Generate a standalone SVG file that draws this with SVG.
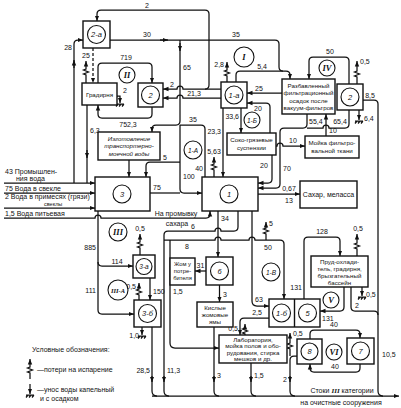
<svg xmlns="http://www.w3.org/2000/svg" width="401" height="408" viewBox="0 0 401 408">
<defs>
<marker id="ar" viewBox="0 0 10 10" refX="10" refY="5" markerWidth="5.5" markerHeight="5.5" orient="auto" markerUnits="userSpaceOnUse"><path d="M0,1 L10,5 L0,9 z" fill="#111"/></marker>
</defs>
<style>
.b{fill:#fff;stroke:#111;stroke-width:1.4}
.c{fill:#fff;stroke:#111;stroke-width:1.1}
.l path{fill:none;stroke:#111;stroke-width:1.25}
.l .a{marker-end:url(#ar)}
.l .d{stroke-dasharray:3 2}
text{font-family:"Liberation Sans",Arial,sans-serif;fill:#111}
.n{font-size:7px}
.m{text-anchor:middle}
.e{text-anchor:end}
.t{font-size:6.2px;text-anchor:middle}
.ti{font-size:6.2px;text-anchor:middle;font-style:italic}
.cn{font-size:7.5px;text-anchor:middle;font-style:italic}
.r{font-family:"Liberation Serif",serif;font-size:8.5px;text-anchor:middle;font-style:italic;font-weight:bold}
</style>
<rect width="401" height="408" fill="#fff"/>
<g id="connectors" class="l">
<path class="a" d="M209,40 V14 Q209,10 205,10 H101 Q97,10 97,14 V21"/>
<path class="a" d="M110,40 H275 Q279,40 279,44 V67 Q279,71 283,71 H286 Q290,71 290,75 V79"/>
<path class="a" d="M160,40 H168"/>
<path d="M209,40 V85 Q209,89 205,89"/>
<path class="a" d="M221,89 H183 A3,3 0 0 0 177,89 H163"/>
<path class="a" d="M221,98 H183 A3,3 0 0 0 177,98 H163"/>
<path class="a" d="M180,40 V121 Q180,125 176,125 H156 Q152,125 152,129 V132"/>
<path class="a" d="M180,43 V51"/>
<path d="M205,177 V129 Q205,125 201,125 H180"/>
<path class="a" d="M180,125 V189 Q180,193 184,193 H202"/>
<path d="M150,193 H180"/>
<path class="a" d="M180,162 H150 Q146,162 146,166 V177"/>
<path class="a" d="M129,160 V177"/>
<path class="a" d="M74,183 V44 Q74,40 78,40 H83"/>
<path class="a" d="M74,68 V60"/>
<path d="M87,105 V183"/>
<path class="a" d="M87,150 V158"/>
<path class="a" d="M4,183 H95"/>
<path class="a" d="M4,193 H95"/>
<path class="a" d="M4,208 H95"/>
<path class="a" d="M4,218 H95 A3,3 0 0 1 101,218 H206 Q210,218 210,214 V211"/>
<path class="a" d="M98,211 V310 Q98,314 102,314 H134"/>
<path class="a" d="M98,262 Q98,266 102,266 H133"/>
<path class="a" d="M140,255 V248 l-2.5,-1 l5,-2 l-5,-2 l2.5,-1 V234"/>
<path class="a" d="M150,278 V300"/>
<path class="a" d="M139,300 V295 l-2.5,-1 l5,-2 l-5,-2 l2.5,-1 V283"/>
<path class="a" d="M142,327 V335"/>
<path d="M138,336 H146 M138,338.5 l2,-2.5 M141,338.5 l2,-2.5 M144,338.5 l2,-2.5"/>
<path d="M152,327 V391 Q152,396 157,396"/>
<path class="a" d="M152,376 V382"/>
<path d="M238,211 V227 Q238,231 234,231 H221 A3,3 0 0 0 215,231 H168 Q164,231 164,235 V391 Q164,396 169,396"/>
<path class="a" d="M164,376 V382"/>
<path class="a" d="M164,240 H215 A3,3 0 0 1 221,240 H249 A3,3 0 0 1 255,240 H280 Q284,240 284,244 V299"/>
<path class="a" d="M170,240 V343 Q170,348 175,348 H219"/>
<path class="a" d="M218,211 V257"/>
<path class="a" d="M206,271 H195"/>
<path class="a" d="M219.5,285 V302"/>
<path d="M214,327 V391 Q214,396 219,396"/>
<path class="a" d="M214,376 V382"/>
<path class="a" d="M252,211 V301 Q252,306 257,306 H269"/>
<path class="a" d="M266,240 V234 l-2.5,-1 l5,-2 l-5,-2 l2.5,-1 V222"/>
<path class="a" d="M304,299 V241 Q304,237 308,237 H336 Q340,237 340,241 V256"/>
<path class="a" d="M344,287 V307 Q344,311 340,311 H320"/>
<path d="M351,287 V307 Q351,311 355,311 H374 Q378,311 378,315"/>
<path class="a" d="M362,287 V296"/>
<path d="M358,297 H366 M358,299.5 l2,-2.5 M361,299.5 l2,-2.5 M364,299.5 l2,-2.5"/>
<path class="a" d="M357,256 V249 l-2.5,-1 l5,-2 l-5,-2 l2.5,-1 V234"/>
<path d="M363,100 H374 Q378,100 378,104 V391 Q378,396 383,396"/>
<path class="a" d="M152,396 H399"/>
<path d="M251,363 V391 Q251,396 256,396"/>
<path class="a" d="M251,376 V382"/>
<path d="M297,356 H294 Q290,356 290,360 V391 Q290,396 295,396"/>
<path class="a" d="M290,376 V382"/>
<path class="a" d="M290,356 V349 l-2.5,-1 l5,-2 l-5,-2 l2.5,-1 V333"/>
<path class="a" d="M310,339 V334 Q310,330 314,330 H356 Q360,330 360,334 V338"/>
<path class="a" d="M360,364 V368 Q360,372 356,372 H314 Q310,372 310,368 V364"/>
<path class="a" d="M269,318 H244 Q240,318 240,322 V335"/>
<path class="a" d="M245,335 V334 l-2.5,-1 l5,-2 l-5,-2 l2.5,-1 V324"/>
<path class="a" d="M223,108 V177"/>
<path class="a" d="M241,108 V133"/>
<path class="a" d="M214,177 V170 l-2.5,-1 l5,-2 l-5,-2 l2.5,-1 V157"/>
<path class="a" d="M227,82 V76 l-2.5,-1 l5,-2 l-5,-2 l2.5,-1 V62"/>
<path d="M236,82 V75 Q236,71 240,71 H283"/>
<path class="a" d="M282,93 H247"/>
<path class="a" d="M270,133 V107 Q270,103 266,103 H247"/>
<path class="a" d="M272,155 V179 Q272,183 268,183 H258"/>
<path class="a" d="M307,114 V124 Q307,128 303,128 H284 Q280,128 280,132 V184 Q280,188 276,188 H258"/>
<path d="M349,110 V124 Q349,128 345,128 H329 A3,3 0 0 0 323,128 H307"/>
<path class="a" d="M276,146 H277 A3,3 0 0 1 283,146 H305"/>
<path class="a" d="M326,136 V114"/>
<path class="a" d="M258,194 H300"/>
<path class="a" d="M359,110 V120"/>
<path d="M355,121 H363 M355,123.5 l2,-2.5 M358,123.5 l2,-2.5 M361,123.5 l2,-2.5"/>
<path class="a" d="M357,84 V77 l-2.5,-1 l5,-2 l-5,-2 l2.5,-1 V61"/>
<path class="a" d="M349,84 V61 Q349,57 345,57 H313 Q309,57 309,61 V79"/>
<path class="a" d="M86,83 V75 l-2.5,-1 l5,-2 l-5,-2 l2.5,-1 V61"/>
<path class="a d" d="M93,48 V83"/>
<path class="a" d="M98,83 V67 Q98,63 102,63 H148 Q152,63 152,67 V83"/>
<path class="a" d="M152,107 V114 Q152,118 148,118 H102 Q98,118 98,114 V105"/>
<path class="a" d="M117,96 H120 V103"/>
<path d="M116,104 H124 M116,106.5 l2,-2.5 M119,106.5 l2,-2.5 M122,106.5 l2,-2.5"/>
</g>
<g id="connector-labels" class="n">
<text x="147" y="8" class="m">2</text>
<text x="147" y="37" class="m">30</text>
<text x="236" y="37" class="m">35</text>
<text x="72" y="50" class="e">28</text>
<text x="86" y="58" class="m">25</text>
<text x="126" y="60" class="m">719</text>
<text x="123" y="93">2</text>
<text x="128" y="127" class="m">752,3</text>
<text x="90" y="133">6,3</text>
<text x="183" y="70">65</text>
<text x="172" y="87" class="m">2</text>
<text x="194" y="96" class="m">21,3</text>
<text x="224" y="67" class="e">2,8</text>
<text x="262" y="69" class="m">5,4</text>
<text x="259" y="91" class="m">25</text>
<text x="258" y="110.5" class="m">20</text>
<text x="239" y="119" class="e">33,6</text>
<text x="221" y="134" class="e">23,3</text>
<text x="193" y="122" class="m">35</text>
<text x="214" y="154" class="m">5,63</text>
<text x="165" y="160" class="m">5</text>
<text x="203" y="171" class="e">40</text>
<text x="183" y="179">100</text>
<text x="157" y="190" class="m">75</text>
<text x="264" y="168" class="m">20</text>
<text x="283" y="171">70</text>
<text x="293" y="143" class="m">10</text>
<text x="309" y="124">55,4</text>
<text x="340" y="124" class="m">65,4</text>
<text x="329" y="133">10</text>
<text x="364" y="121">6,4</text>
<text x="360" y="64">0,5</text>
<text x="330" y="54" class="m">50</text>
<text x="370" y="98" class="m">8,5</text>
<text x="289" y="191" class="m">0,67</text>
<text x="289" y="203" class="m">13</text>
<text x="176" y="216" class="m">На промывку</text>
<text x="177" y="226" class="m">сахара</text>
<text x="193" y="229" class="m">6</text>
<text x="221" y="221">34</text>
<text x="187" y="249" class="m">8</text>
<text x="268" y="250" class="m">50</text>
<text x="269" y="226">5</text>
<text x="96" y="250" class="e">885</text>
<text x="140" y="231" class="m">0,5</text>
<text x="117" y="264" class="m">114</text>
<text x="96" y="293" class="e">111</text>
<text x="136" y="289" class="e">0,5</text>
<text x="153" y="294">150</text>
<text x="139" y="338" class="e">1,0</text>
<text x="200.5" y="268" class="m">31</text>
<text x="223" y="297">3</text>
<text x="173" y="294">1,5</text>
<text x="255" y="302">63</text>
<text x="322" y="234" class="m">128</text>
<text x="358" y="231" class="m">0,5</text>
<text x="302" y="290" class="e">131</text>
<text x="322" y="321">131</text>
<text x="355" y="308">2</text>
<text x="366" y="297">0,5</text>
<text x="257" y="315" class="m">2,5</text>
<text x="238" y="331" class="e">0,5</text>
<text x="293" y="336">0,5</text>
<text x="334" y="327" class="m">40</text>
<text x="335" y="369" class="m">40</text>
<text x="150" y="373" class="e">28,5</text>
<text x="167" y="373">11,3</text>
<text x="217" y="378">3</text>
<text x="254" y="378">1,5</text>
<text x="287" y="382" class="e">2</text>
<text x="382" y="357">10,5</text>
</g>
<g id="inputs" class="n">
<text x="5" y="174">43 Промышлен-</text>
<text x="16" y="181">ния вода</text>
<text x="5" y="191">75 Вода в свекле</text>
<text x="5" y="199">2 Вода в примесях (грязи)</text>
<text x="44" y="205.5" style="font-size:5.5px">свеклы</text>
<text x="5" y="215.5">1,5 Вода питьевая</text>
</g>
<g id="n-2a"><rect class="b" x="83" y="21" width="27" height="27"/><circle class="c" cx="96.5" cy="34.5" r="9"/><text x="96.5" y="37" class="cn">2-а</text></g>
<g id="n-gradirnya"><rect class="b" x="82" y="83" width="35" height="22"/><text x="99.5" y="96.5" class="t">Градирня</text></g>
<g id="n-2-left"><rect class="b" x="138" y="83" width="25" height="24"/><circle class="c" cx="150.5" cy="95" r="9"/><text x="150.5" y="98" class="cn">2</text></g>
<g id="n-izgotovlenie"><rect class="b" x="98" y="132" width="62" height="28"/><text x="129" y="140.5" class="ti">Изготовление</text><text x="129" y="148" class="ti">транспортерно-</text><text x="129" y="155.5" class="ti">моечной воды</text></g>
<g id="n-1a"><rect class="b" x="221" y="82" width="26" height="26"/><circle class="c" cx="234" cy="95" r="9"/><text x="234" y="97.5" class="cn">1-а</text></g>
<g id="n-soko"><rect class="b" x="227" y="133" width="49" height="22"/><text x="251.5" y="142" class="t">Соко-грязевые</text><text x="251.5" y="150" class="t">суспензии</text></g>
<g id="n-razb"><rect class="b" x="282" y="79" width="53" height="35"/><text x="308.5" y="87.5" class="t">Разбавленный</text><text x="308.5" y="95" class="t">фильтрационный</text><text x="308.5" y="102.5" class="t">осадок после</text><text x="308.5" y="110" class="t">вакуум-фильтров</text></g>
<g id="n-2-right"><rect class="b" x="337" y="84" width="26" height="26"/><circle class="c" cx="350" cy="97" r="9"/><text x="350" y="100" class="cn">2</text></g>
<g id="n-moika"><rect class="b" x="305" y="136" width="54" height="22"/><text x="332" y="145" class="t">Мойка фильтро-</text><text x="332" y="153" class="t">вальной ткани</text></g>
<g id="n-sahar"><rect class="b" x="300" y="181" width="57" height="27"/><text x="328.5" y="197" class="n m">Сахар, меласса</text></g>
<g id="n-3"><rect class="b" x="95" y="177" width="55" height="34"/><circle class="c" cx="122" cy="194" r="9"/><text x="122" y="197" class="cn">3</text></g>
<g id="n-1"><rect class="b" x="202" y="177" width="56" height="34"/><circle class="c" cx="229" cy="194" r="9"/><text x="229" y="197" class="cn">1</text></g>
<g id="n-3a"><rect class="b" x="133" y="255" width="22" height="23"/><circle class="c" cx="144" cy="266.5" r="8"/><text x="144" y="269" class="cn" style="font-size:6.5px">3-а</text></g>
<g id="n-3b"><rect class="b" x="134" y="300" width="27" height="27"/><circle class="c" cx="147.5" cy="313.5" r="9"/><text x="147.5" y="316" class="cn">3-б</text></g>
<g id="n-zhom"><rect class="b" x="170" y="258" width="25" height="27"/><text x="182.5" y="265.5" class="t" style="font-size:5.8px">Жом у</text><text x="182.5" y="272.5" class="t" style="font-size:5.8px">потре-</text><text x="182.5" y="279.5" class="t" style="font-size:5.8px">бителя</text></g>
<g id="n-6"><rect class="b" x="206" y="257" width="27" height="28"/><circle class="c" cx="219.5" cy="271" r="9"/><text x="219.5" y="274" class="cn">6</text></g>
<g id="n-kislye"><rect class="b" x="197" y="302" width="36" height="25"/><text x="215" y="310" class="t">Кислые</text><text x="215" y="317" class="t">жомовые</text><text x="215" y="324" class="t">ямы</text></g>
<g id="n-prud"><rect class="b" x="311" y="256" width="57" height="31"/><text x="339.5" y="263.5" class="t">Пруд-охлади-</text><text x="339.5" y="270.5" class="t">тель, градирня,</text><text x="339.5" y="277.5" class="t">брызгательный</text><text x="339.5" y="284.5" class="t">бассейн</text></g>
<g id="n-1b-5"><rect class="b" x="269" y="299" width="51" height="28"/><path d="M294.5,299 V327" stroke="#111" stroke-width="1.4"/><circle class="c" cx="281.5" cy="313" r="9"/><text x="281.5" y="315.5" class="cn">1-б</text><circle class="c" cx="307.5" cy="313" r="9"/><text x="307.5" y="316" class="cn">5</text></g>
<g id="n-lab"><rect class="b" x="219" y="335" width="68" height="28"/><text x="253" y="341.5" class="t">Лаборатория,</text><text x="253" y="348" class="t">мойка полов и обо-</text><text x="253" y="354.5" class="t">рудования, стирка</text><text x="253" y="361" class="t">мешков и др.</text></g>
<g id="n-8"><rect class="b" x="297" y="339" width="25" height="25"/><circle class="c" cx="309.5" cy="351.5" r="8.5"/><text x="309.5" y="354" class="cn">8</text></g>
<g id="n-7"><rect class="b" x="347" y="338" width="27" height="26"/><circle class="c" cx="360.5" cy="351" r="9"/><text x="360.5" y="354" class="cn">7</text></g>
<g id="c-I"><circle class="c" cx="244" cy="57" r="10"/><text x="244" y="60" class="r">I</text></g>
<g id="c-II"><circle class="c" cx="127" cy="75" r="8"/><text x="127" y="78" class="r">II</text></g>
<g id="c-IV"><circle class="c" cx="327" cy="68" r="8"/><text x="327" y="71" class="r">IV</text></g>
<g id="c-1A"><circle class="c" cx="193" cy="150" r="9"/><text x="193" y="152.5" class="cn" style="font-size:6.5px">1-А</text></g>
<g id="c-1B"><circle class="c" cx="252" cy="120" r="8"/><text x="252" y="122.5" class="cn" style="font-size:6.5px">1-Б</text></g>
<g id="c-III"><circle class="c" cx="118" cy="232" r="9"/><text x="118" y="235" class="r">III</text></g>
<g id="c-IIIA"><circle class="c" cx="118" cy="290" r="10"/><text x="118" y="292.5" class="r" style="font-size:6.5px">III-А</text></g>
<g id="c-1V"><circle class="c" cx="271" cy="272" r="9"/><text x="271" y="274.5" class="cn" style="font-size:6.5px">1-В</text></g>
<g id="c-V"><circle class="c" cx="331" cy="300" r="8"/><text x="331" y="303" class="r">V</text></g>
<g id="c-VI"><circle class="c" cx="334" cy="352" r="8"/><text x="334" y="355" class="r">VI</text></g>
<g id="outlet" class="n"><text x="342" y="393" class="m">Стоки <tspan style="font-family:'Liberation Serif',serif;font-style:italic;font-weight:bold">III</tspan> категории</text><text x="341" y="405" class="m">на очистные сооружения</text></g>
<g id="legend" class="n">
<text x="32" y="352">Условные обозначения:</text>
<g class="l"><path class="a" d="M30,379 V373 l-2.5,-1 l5,-2 l-5,-2 l2.5,-1 V359"/><path class="a" d="M30,384 V394"/><path d="M26,395 H34 M26,397.5 l2,-2.5 M29,397.5 l2,-2.5 M32,397.5 l2,-2.5"/></g>
<text x="37" y="372">—потери на испарение</text>
<text x="37" y="392">—унос воды капельный</text>
<text x="40" y="401">и с осадком</text>
</g>
</svg>
